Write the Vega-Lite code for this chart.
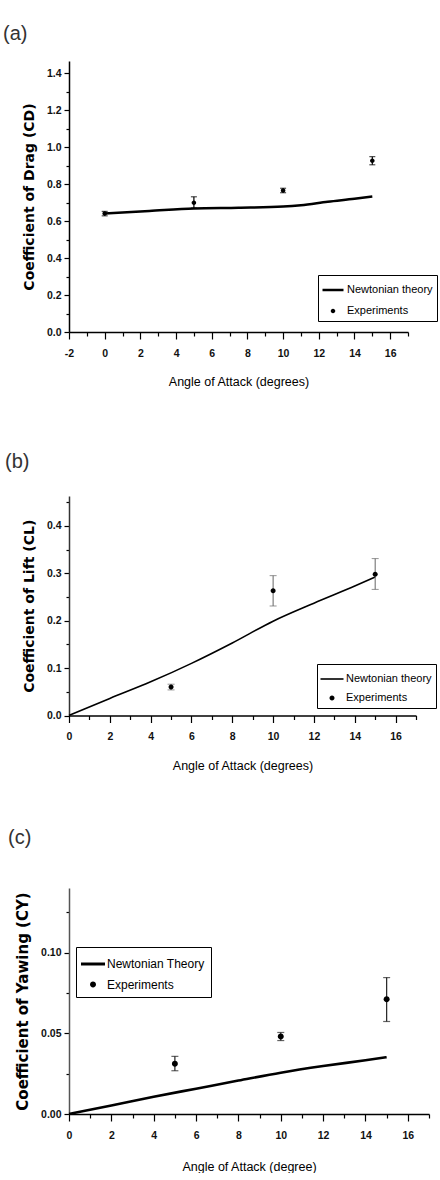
{
  "$schema": "https://vega.github.io/schema/vega-lite/v6.json",
  "padding": {"left": 3, "top": 24, "right": 0, "bottom": 0},
  "background": "white",
  "datasets": {
    "theory_a": [
      {"aoa": 0, "coef": 0.640}, {"aoa": 2.5, "coef": 0.654}, {"aoa": 5, "coef": 0.668},
      {"aoa": 7.5, "coef": 0.672}, {"aoa": 10, "coef": 0.678}, {"aoa": 11, "coef": 0.685},
      {"aoa": 12.5, "coef": 0.704}, {"aoa": 14, "coef": 0.720}, {"aoa": 15, "coef": 0.732}
    ],
    "exp_a": [
      {"aoa": 0, "coef": 0.640, "lo": 0.628, "hi": 0.652, "series": "Experiments"},
      {"aoa": 5, "coef": 0.699, "lo": 0.670, "hi": 0.731, "series": "Experiments"},
      {"aoa": 10, "coef": 0.765, "lo": 0.753, "hi": 0.777, "series": "Experiments"},
      {"aoa": 15, "coef": 0.926, "lo": 0.904, "hi": 0.948, "series": "Experiments"}
    ],
    "theory_b": [
      {"aoa": 0, "coef": 0}, {"aoa": 2, "coef": 0.036}, {"aoa": 4, "coef": 0.071},
      {"aoa": 6, "coef": 0.110}, {"aoa": 8, "coef": 0.153}, {"aoa": 10, "coef": 0.199},
      {"aoa": 12, "coef": 0.237}, {"aoa": 14, "coef": 0.273}, {"aoa": 15, "coef": 0.292}
    ],
    "exp_b": [
      {"aoa": 5, "coef": 0.060, "lo": 0.054, "hi": 0.066, "series": "Experiments"},
      {"aoa": 10, "coef": 0.263, "lo": 0.231, "hi": 0.295, "series": "Experiments"},
      {"aoa": 15, "coef": 0.298, "lo": 0.266, "hi": 0.331, "series": "Experiments"}
    ],
    "theory_c": [
      {"aoa": 0, "coef": 0}, {"aoa": 2, "coef": 0.0053}, {"aoa": 4, "coef": 0.0107},
      {"aoa": 6, "coef": 0.0157}, {"aoa": 8, "coef": 0.0207}, {"aoa": 10, "coef": 0.0256},
      {"aoa": 12, "coef": 0.0297}, {"aoa": 14, "coef": 0.0333}, {"aoa": 15, "coef": 0.0352}
    ],
    "exp_c": [
      {"aoa": 5, "coef": 0.0311, "lo": 0.0268, "hi": 0.0357, "series": "Experiments"},
      {"aoa": 10, "coef": 0.0480, "lo": 0.0455, "hi": 0.0505, "series": "Experiments"},
      {"aoa": 15, "coef": 0.0711, "lo": 0.0573, "hi": 0.0845, "series": "Experiments"}
    ]
  },
  "config": {
    "view": {"stroke": null},
    "title": {"font": "Liberation Sans", "fontSize": 20, "fontWeight": "normal", "color": "#333", "baseline": "bottom"},
    "axis": {
      "grid": false, "domainColor": "black", "domainWidth": 1.5, "tickColor": "black", "tickWidth": 1.2,
      "labelFont": "Liberation Sans", "labelFontWeight": "bold", "labelFontSize": 10.5, "labelColor": "#111",
      "labelOverlap": false, "labelFlush": false, "labelBound": false, "titleColor": "black"
    },
    "axisX": {"titleFont": "Liberation Sans", "titleFontWeight": "normal", "titleFontSize": 12.5, "titlePadding": 17, "labelPadding": 9},
    "axisY": {"titleFont": "DejaVu Sans", "titleFontWeight": "bold", "titleFontSize": 14, "titlePadding": 10, "labelPadding": 3},
    "legend": {"labelFont": "Liberation Sans", "labelFontSize": 11, "labelColor": "black", "title": null}
  },
  "spacing": 56,
  "resolve": {"scale": {"shape": "independent"}, "legend": {"shape": "independent"}},
  "vconcat": [
    {
      "spacing": 64,
      "resolve": {"scale": {"shape": "independent"}, "legend": {"shape": "independent"}},
      "vconcat": [
        {
          "title": {"text": "(a)", "anchor": "start", "frame": "group", "dx": -66, "offset": 17},
          "width": 339, "height": 271,
          "encoding": {
            "x": {"field": "aoa", "type": "quantitative", "scale": {"domain": [-2, 17], "nice": false, "zero": false},
              "axis": {"title": "Angle of Attack (degrees)", "tickCount": 100, "values": [-2,-1,0,1,2,3,4,5,6,7,8,9,10,11,12,13,14,15,16,17],
                "labelExpr": "datum.value % 2 === 0 ? '' + datum.value : ''",
                "tickSize": {"condition": {"test": "datum.value % 2 === 0", "value": 7}, "value": 4}}}
          },
          "layer": [
            {"data": {"name": "theory_a"}, "mark": {"type": "line", "color": "black", "strokeWidth": 2.5, "interpolate": "monotone"},
              "encoding": {"y": {"field": "coef", "type": "quantitative", "title": "Coefficient of Drag (CD)", "scale": {"domain": [0, 1.465], "nice": false},
                "axis": {"tickCount": 100, "values": [0,0.1,0.2,0.3,0.4,0.5,0.6,0.7,0.8,0.9,1,1.1,1.2,1.3,1.4],
                  "labelExpr": "round(datum.value*10) % 2 === 0 ? format(datum.value, '.1f') : ''",
                  "tickSize": {"condition": {"test": "round(datum.value*10) % 2 === 0", "value": 5}, "value": 3}}}}},
            {"data": {"name": "exp_a"}, "mark": {"type": "rule", "color": "black", "strokeWidth": 1.2},
              "encoding": {"y": {"field": "lo", "type": "quantitative", "title": "Coefficient of Drag (CD)"}, "y2": {"field": "hi"}}},
            {"data": {"name": "exp_a"}, "mark": {"type": "tick", "orient": "horizontal", "size": 6, "thickness": 1.2, "color": "black"},
              "encoding": {"y": {"field": "lo", "type": "quantitative", "title": "Coefficient of Drag (CD)"}}},
            {"data": {"name": "exp_a"}, "mark": {"type": "tick", "orient": "horizontal", "size": 6, "thickness": 1.2, "color": "black"},
              "encoding": {"y": {"field": "hi", "type": "quantitative", "title": "Coefficient of Drag (CD)"}}},
            {"data": {"name": "exp_a"}, "mark": {"type": "point", "filled": true, "size": 400, "color": "black", "opacity": 1},
              "encoding": {"y": {"field": "coef", "type": "quantitative", "title": "Coefficient of Drag (CD)"},
                "shape": {"field": "series", "type": "nominal",
                  "scale": {"domain": ["Newtonian theory", "Experiments"],
                    "range": ["M-1.05,-0.125H1.05V0.125H-1.05Z", "M0,-0.225A0.225,0.225,0,1,1,0,0.225A0.225,0.225,0,1,1,0,-0.225Z"]},
                  "legend": {"orient": "none", "legendX": 249, "legendY": 214, "strokeColor": "black", "fillColor": "white",
                    "padding": 4, "rowPadding": 5, "symbolSize": 400, "labelOffset": 3}}}}
          ]
        },
        {
          "title": {"text": "(b)", "anchor": "start", "frame": "group", "dx": -64, "offset": 24},
          "width": 347, "height": 219.5,
          "encoding": {
            "x": {"field": "aoa", "type": "quantitative", "scale": {"domain": [0, 17], "nice": false, "zero": false},
              "axis": {"title": "Angle of Attack (degrees)", "tickCount": 100, "values": [0,1,2,3,4,5,6,7,8,9,10,11,12,13,14,15,16,17],
                "labelExpr": "datum.value % 2 === 0 ? '' + datum.value : ''",
                "tickSize": {"condition": {"test": "datum.value % 2 === 0", "value": 7}, "value": 4}}}
          },
          "layer": [
            {"data": {"name": "theory_b"}, "mark": {"type": "line", "color": "black", "strokeWidth": 1.6, "interpolate": "monotone"},
              "encoding": {"y": {"field": "coef", "type": "quantitative", "title": "Coefficient of Lift (CL)", "scale": {"domain": [0, 0.463], "nice": false},
                "axis": {"tickCount": 100, "values": [0,0.05,0.1,0.15,0.2,0.25,0.3,0.35,0.4,0.45], "domainColor": "#333",
                  "labelExpr": "round(datum.value*20) % 2 === 0 ? format(datum.value, '.1f') : ''",
                  "tickSize": {"condition": {"test": "round(datum.value*20) % 2 === 0", "value": 5}, "value": 3}}}}},
            {"data": {"name": "exp_b"}, "mark": {"type": "rule", "color": "#666", "strokeWidth": 1},
              "encoding": {"y": {"field": "lo", "type": "quantitative", "title": "Coefficient of Lift (CL)"}, "y2": {"field": "hi"}}},
            {"data": {"name": "exp_b"}, "mark": {"type": "tick", "orient": "horizontal", "size": 7, "thickness": 1, "color": "#666"},
              "encoding": {"y": {"field": "lo", "type": "quantitative", "title": "Coefficient of Lift (CL)"}}},
            {"data": {"name": "exp_b"}, "mark": {"type": "tick", "orient": "horizontal", "size": 7, "thickness": 1, "color": "#666"},
              "encoding": {"y": {"field": "hi", "type": "quantitative", "title": "Coefficient of Lift (CL)"}}},
            {"data": {"name": "exp_b"}, "mark": {"type": "point", "filled": true, "size": 400, "color": "black", "opacity": 1},
              "encoding": {"y": {"field": "coef", "type": "quantitative", "title": "Coefficient of Lift (CL)"},
                "shape": {"field": "series", "type": "nominal",
                  "scale": {"domain": ["Newtonian theory", "Experiments"],
                    "range": ["M-1.15,-0.08H1.15V0.08H-1.15Z", "M0,-0.25A0.25,0.25,0,1,1,0,0.25A0.25,0.25,0,1,1,0,-0.25Z"]},
                  "legend": {"orient": "none", "legendX": 248, "legendY": 168, "strokeColor": "black", "fillColor": "white",
                    "padding": 4, "rowPadding": 3, "symbolSize": 400, "labelOffset": 3}}}}
          ]
        }
      ]
    },
    {
      "title": {"text": "(c)", "anchor": "start", "frame": "group", "dx": -61, "offset": 40},
      "width": 360, "height": 226,
      "encoding": {
        "x": {"field": "aoa", "type": "quantitative", "scale": {"domain": [0, 17], "nice": false, "zero": false},
          "axis": {"title": "Angle of Attack (degree)", "tickCount": 100, "titlePadding": 20, "values": [0,1,2,3,4,5,6,7,8,9,10,11,12,13,14,15,16,17],
            "labelExpr": "datum.value % 2 === 0 ? '' + datum.value : ''",
            "tickSize": {"condition": {"test": "datum.value % 2 === 0", "value": 7}, "value": 4}}}
      },
      "layer": [
        {"data": {"name": "theory_c"}, "mark": {"type": "line", "color": "black", "strokeWidth": 2.6, "interpolate": "monotone"},
          "encoding": {"y": {"field": "coef", "type": "quantitative", "title": "Coefficient of Yawing (CY)", "scale": {"domain": [0, 0.14], "nice": false},
            "axis": {"tickCount": 100, "values": [0,0.025,0.05,0.075,0.1,0.125], "domainColor": "#555", "titleFontSize": 15,
              "labelExpr": "round(datum.value*40) % 2 === 0 ? format(datum.value, '.2f') : ''",
              "tickSize": {"condition": {"test": "round(datum.value*40) % 2 === 0", "value": 5}, "value": 3}}}}},
        {"data": {"name": "exp_c"}, "mark": {"type": "rule", "color": "#222", "strokeWidth": 1.2},
          "encoding": {"y": {"field": "lo", "type": "quantitative", "title": "Coefficient of Yawing (CY)"}, "y2": {"field": "hi"}}},
        {"data": {"name": "exp_c"}, "mark": {"type": "tick", "orient": "horizontal", "size": 7, "thickness": 1.2, "color": "#222"},
          "encoding": {"y": {"field": "lo", "type": "quantitative", "title": "Coefficient of Yawing (CY)"}}},
        {"data": {"name": "exp_c"}, "mark": {"type": "tick", "orient": "horizontal", "size": 7, "thickness": 1.2, "color": "#222"},
          "encoding": {"y": {"field": "hi", "type": "quantitative", "title": "Coefficient of Yawing (CY)"}}},
        {"data": {"name": "exp_c"}, "mark": {"type": "point", "filled": true, "size": 420, "color": "black", "opacity": 1},
          "encoding": {"y": {"field": "coef", "type": "quantitative", "title": "Coefficient of Yawing (CY)"},
            "shape": {"field": "series", "type": "nominal",
              "scale": {"domain": ["Newtonian Theory", "Experiments"],
                "range": ["M-1.17,-0.146H1.17V0.146H-1.17Z", "M0,-0.29A0.29,0.29,0,1,1,0,0.29A0.29,0.29,0,1,1,0,-0.29Z"]},
              "legend": {"orient": "none", "legendX": 7, "legendY": 59, "strokeColor": "black", "fillColor": "white",
                "padding": 6, "rowPadding": 3.5, "labelFontSize": 12, "symbolSize": 420, "labelOffset": 3}}}}
      ]
    }
  ]
}
